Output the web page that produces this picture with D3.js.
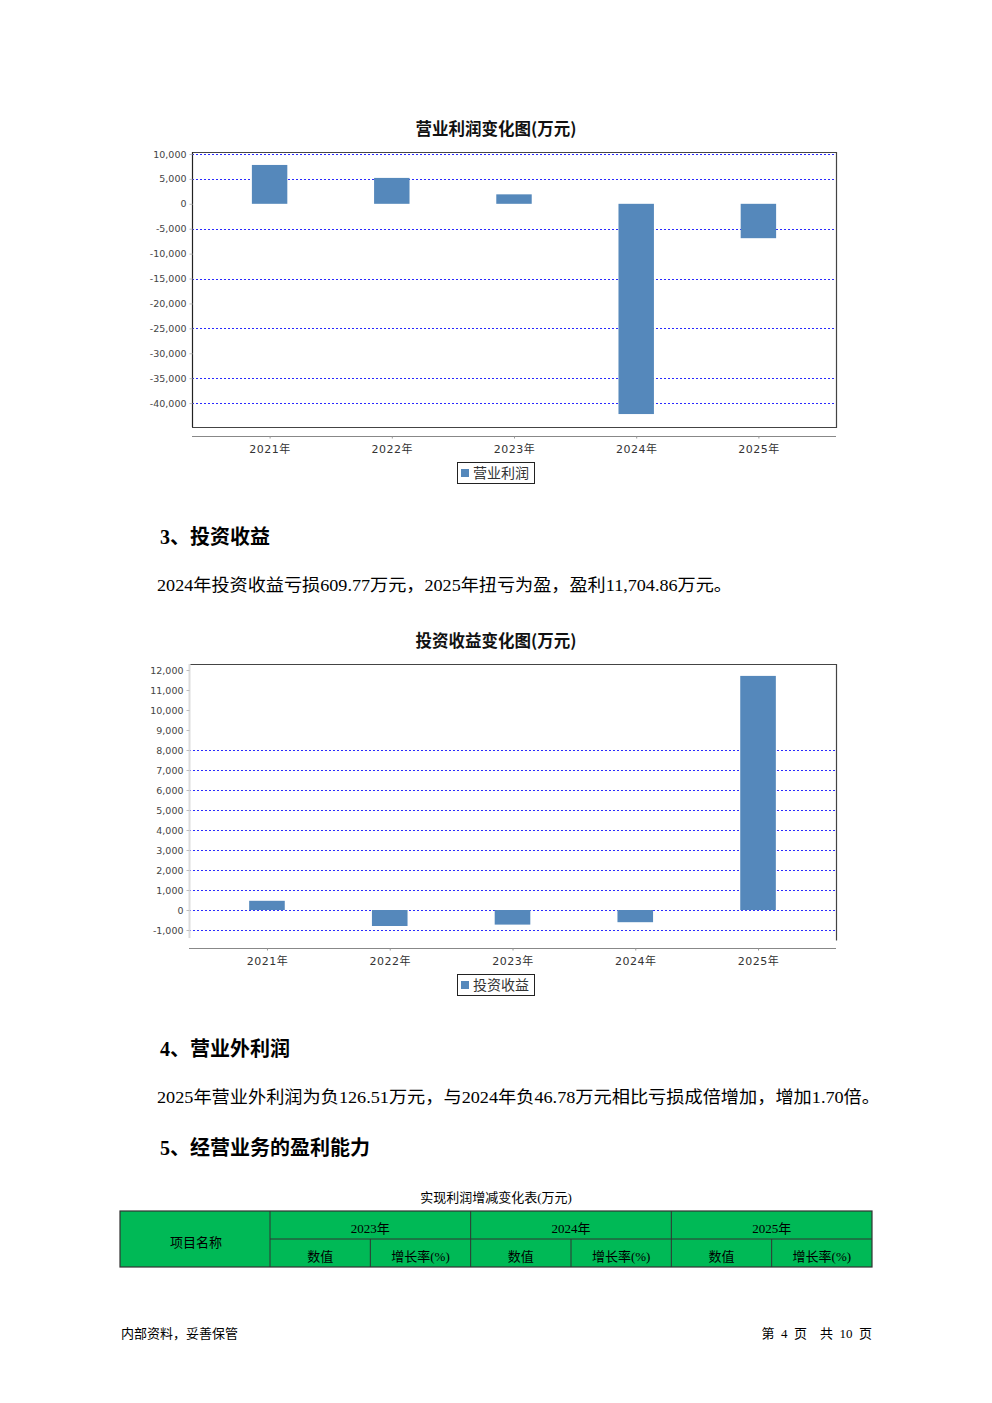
<!DOCTYPE html>
<html><head><meta charset="utf-8">
<script src="https://cdn.jsdelivr.net/npm/d3@7"></script>
<style>
html,body{margin:0;padding:0;background:#fff;}
svg{display:block;}
</style></head>
<body>
<script>
// ---------- data ----------
const categories = ["2021年","2022年","2023年","2024年","2025年"];
const operatingProfit = [7800, 5200, 1900, -42200, -6900];
const opTicks = [10000,5000,0,-5000,-10000,-15000,-20000,-25000,-30000,-35000,-40000];
const opGrid = [10000,5000,-5000,-15000,-25000,-35000,-40000];
const investIncome = [460, -800, -730, -609.77, 11704.86];
const invTicks = [12000,11000,10000,9000,8000,7000,6000,5000,4000,3000,2000,1000,0,-1000];
const invGrid = [8000,7000,6000,5000,4000,3000,2000,1000,0,-1000];
const tableYears = ["2023年","2024年","2025年"];
const tableSub = ["数值","增长率(%)"];

const W = 992, H = 1403;
const svg = d3.select("body").append("svg").attr("width", W).attr("height", H);
svg.append("rect").attr("width", W).attr("height", H).attr("fill", "#fff");

const chartFont = "'DejaVu Sans','Noto Sans CJK SC',sans-serif";
const docFont = "'Liberation Serif','Noto Sans CJK SC',serif";
const barColor = "#5588bb";
const fmt = d3.formatLocale({decimal: ".", thousands: ",", grouping: [3], currency: ["", ""], minus: "-"}).format(",");

function drawChart(o) {
  const g = svg.append("g");
  // title
  g.append("text").attr("x", o.titleX).attr("y", o.titleY)
    .attr("text-anchor", "middle").attr("font-family", "'Noto Sans CJK SC',sans-serif")
    .attr("font-weight", "bold").attr("font-size", 16.5).attr("fill", "#111").text(o.title);

  const x = d3.scaleBand().domain(o.cats).range([o.left, o.right])
    .paddingInner(0.71).paddingOuter(0.49);
  const y = d3.scaleLinear().domain(o.domain).range([o.bottom, o.top]);

  // gridlines
  g.append("g").selectAll("line").data(o.grid).join("line")
    .attr("x1", o.left).attr("x2", o.right)
    .attr("y1", d => Math.round(y(d)) + 0.5).attr("y2", d => Math.round(y(d)) + 0.5)
    .attr("stroke", "#2a2aff").attr("stroke-width", 1).attr("stroke-dasharray", "2,2");

  // bars
  g.append("g").selectAll("rect").data(o.values).join("rect")
    .attr("x", (d, i) => x(o.cats[i]))
    .attr("width", x.bandwidth())
    .attr("y", d => y(Math.max(0, d)))
    .attr("height", d => Math.abs(y(d) - y(0)))
    .attr("fill", barColor);

  // plot frame
  g.append("path")
    .attr("d", `M${o.left},${o.top + 0.5}H${o.right + 0.5}V${o.bottom + 0.5}` + (o.closedBottom ? `H${o.left}` : ""))
    .attr("fill", "none").attr("stroke", "#444").attr("stroke-width", 1.2);

  // y axis
  const ya = g.append("g").attr("transform", `translate(${o.left + 0.5},0)`)
    .call(d3.axisLeft(y).tickValues(o.ticks).tickFormat(fmt).tickSize(3).tickPadding(3));
  ya.select(".domain").attr("stroke", o.yAxisColor).attr("stroke-width", o.yAxisWidth)
    .attr("d", `M0,${o.top}V${o.yAxisBottom}`);
  ya.selectAll(".tick line").attr("stroke", "#bbb");
  ya.selectAll(".tick text").attr("font-family", chartFont).attr("font-size", 9.5).attr("fill", "#444");

  // x axis (separate, below the plot)
  const xp = d3.scalePoint().domain(o.cats).range([x(o.cats[0]) + x.bandwidth() / 2, x(o.cats[4]) + x.bandwidth() / 2]);
  const xa = g.append("g").attr("transform", `translate(0,${o.xAxisY + 0.5})`)
    .call(d3.axisBottom(xp).tickSize(2).tickPadding(7).tickSizeOuter(0));
  xa.select(".domain").attr("stroke", "#888").attr("stroke-width", 1.2)
    .attr("d", `M${o.left},0H${o.right}`);
  xa.selectAll(".tick line").attr("stroke", "#999");
  xa.selectAll(".tick text").attr("font-family", chartFont).attr("font-size", 11)
    .attr("fill", "#333").attr("letter-spacing", 0.5);

  // legend
  const lg = g.append("g");
  lg.append("rect").attr("x", 457.5).attr("y", o.legendY + 0.5).attr("width", 77).attr("height", 21)
    .attr("fill", "#fff").attr("stroke", "#222").attr("stroke-width", 1);
  lg.append("rect").attr("x", 461).attr("y", o.legendY + 7).attr("width", 8).attr("height", 8).attr("fill", barColor);
  lg.append("text").attr("x", 473).attr("y", o.legendY + 16).attr("font-family", "'Noto Sans CJK SC',sans-serif")
    .attr("font-size", 14).attr("fill", "#333").text(o.legend);
}

drawChart({
  title: "营业利润变化图(万元)", titleX: 496, titleY: 135,
  cats: categories, values: operatingProfit,
  left: 192, right: 836, top: 152, bottom: 427,
  domain: [-44800, 10400], ticks: opTicks, grid: opGrid,
  yAxisColor: "#222", yAxisWidth: 1.2, yAxisBottom: 427, closedBottom: true,
  xAxisY: 436, legendY: 462, legend: "营业利润"
});

drawChart({
  title: "投资收益变化图(万元)", titleX: 496, titleY: 647,
  cats: categories, values: investIncome,
  left: 189, right: 836, top: 664, bottom: 940,
  domain: [-1500, 12300], ticks: invTicks, grid: invGrid,
  yAxisColor: "#ddd", yAxisWidth: 2, yAxisBottom: 938, closedBottom: false,
  xAxisY: 948, legendY: 974, legend: "投资收益"
});

// ---------- document text ----------
function heading(txt, y) {
  svg.append("text").attr("x", 160).attr("y", y).attr("font-family", "'Liberation Serif','Noto Sans CJK SC',serif")
    .attr("font-weight", "bold").attr("font-size", 20).attr("fill", "#000").text(txt);
}
function para(txt, y, len) {
  svg.append("text").attr("x", 157).attr("y", y).attr("font-family", docFont)
    .attr("font-size", 17).attr("fill", "#000")
    .attr("textLength", len).attr("lengthAdjust", "spacingAndGlyphs").text(txt);
}
heading("3、投资收益", 544);
para("2024年投资收益亏损609.77万元，2025年扭亏为盈，盈利11,704.86万元。", 591, 575);
heading("4、营业外利润", 1056);
para("2025年营业外利润为负126.51万元，与2024年负46.78万元相比亏损成倍增加，增加1.70倍。", 1103, 723);
heading("5、经营业务的盈利能力", 1155);

// ---------- table ----------
svg.append("text").attr("x", 496).attr("y", 1202).attr("text-anchor", "middle")
  .attr("font-family", docFont).attr("font-size", 13).attr("fill", "#000").text("实现利润增减变化表(万元)");

const colX = d3.scaleLinear().domain([0, 3]).range([270, 872]);
const tTop = 1211, tMid = 1239, tBot = 1267, tLeft = 120;
const tg = svg.append("g");
tg.append("rect").attr("x", tLeft).attr("y", tTop).attr("width", 872 - tLeft).attr("height", tBot - tTop)
  .attr("fill", "#00b956").attr("stroke", "#333").attr("stroke-width", 1.2);
tg.append("line").attr("x1", 270).attr("x2", 270).attr("y1", tTop).attr("y2", tBot).attr("stroke", "#333");
tg.append("line").attr("x1", 270).attr("x2", 872).attr("y1", tMid).attr("y2", tMid).attr("stroke", "#333");
tableYears.forEach((yr, i) => {
  const x0 = colX(i), x1 = colX(i + 1), xm = (x0 + x1) / 2;
  if (i > 0) tg.append("line").attr("x1", x0).attr("x2", x0).attr("y1", tTop).attr("y2", tBot).attr("stroke", "#333");
  tg.append("line").attr("x1", xm).attr("x2", xm).attr("y1", tMid).attr("y2", tBot).attr("stroke", "#333");
  tg.append("text").attr("x", xm).attr("y", 1233).attr("text-anchor", "middle")
    .attr("font-family", docFont).attr("font-size", 13).text(yr);
  tableSub.forEach((s, j) => {
    tg.append("text").attr("x", j === 0 ? (x0 + xm) / 2 : (xm + x1) / 2).attr("y", 1261)
      .attr("text-anchor", "middle").attr("font-family", docFont).attr("font-size", 13).text(s);
  });
});
tg.append("text").attr("x", 196).attr("y", 1247).attr("text-anchor", "middle")
  .attr("font-family", docFont).attr("font-size", 13).text("项目名称");

// ---------- footer ----------
svg.append("text").attr("x", 121).attr("y", 1338).attr("font-family", docFont)
  .attr("font-size", 13).text("内部资料，妥善保管");
svg.append("text").attr("x", 872).attr("y", 1338).attr("text-anchor", "end").attr("font-family", docFont)
  .attr("font-size", 13).attr("xml:space", "preserve").text("第  4  页    共  10  页");
</script>
</body></html>
